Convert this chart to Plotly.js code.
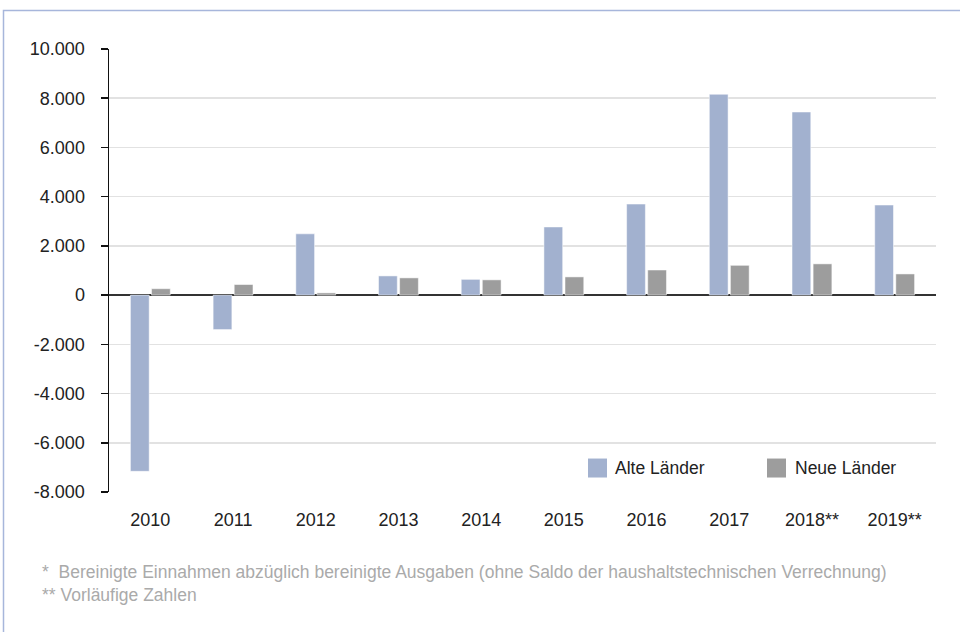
<!DOCTYPE html>
<html>
<head>
<meta charset="utf-8">
<script src="https://cdn.plot.ly/plotly-3.0.1.min.js"></script>
<style>
html,body{margin:0;padding:0;background:#fff;}
#chart{width:960px;height:632px;}
</style>
</head>
<body>
<div id="chart"></div>
<script>
var categories = ["2010","2011","2012","2013","2014","2015","2016","2017","2018**","2019**"];
var alteLaender = [-7160, -1400, 2490, 780, 640, 2770, 3700, 8160, 7440, 3660];
var neueLaender = [260, 430, 90, 700, 620, 740, 1020, 1210, 1270, 860];
var seriesNames = ["Alte Länder", "Neue Länder"];
var yTicks = [-8000,-6000,-4000,-2000,0,2000,4000,6000,8000,10000];
var yTickText = ["-8.000","-6.000","-4.000","-2.000","0","2.000","4.000","6.000","8.000","10.000"];
var footnotes = ["*  Bereinigte Einnahmen abzüglich bereinigte Ausgaben (ohne Saldo der haushaltstechnischen Verrechnung)", "** Vorläufige Zahlen"];

var colBlue = "#a2b1cf", colGray = "#9d9d9d";
var W = 960, H = 632;
var L = 109, R = 936, T = 49, B = 492.5;
function px(x){ return (x - L) / (R - L); }
function py(y){ return (B - y) / (B - T); }

var traces = [
  {type:"bar", x:categories, y:alteLaender, name:seriesNames[0],
   marker:{color:colBlue, line:{color:"rgba(255,255,255,0.5)", width:1}}, hoverinfo:"x+y+name"},
  {type:"bar", x:categories, y:neueLaender, name:seriesNames[1],
   marker:{color:colGray, line:{color:"rgba(255,255,255,0.5)", width:1}}, hoverinfo:"x+y+name"}
];

var font = "Liberation Sans, Arial, Helvetica, sans-serif";

var layout = {
  width:W, height:H,
  margin:{l:L, r:W-R, t:T, b:H-B, pad:0},
  paper_bgcolor:"#fff", plot_bgcolor:"#fff",
  separators:",.",
  showlegend:false,
  barmode:"group", bargap:0.49, bargroupgap:0.11,
  font:{family:font, size:18, color:"#222"},
  xaxis:{type:"category", showgrid:false, zeroline:false, showline:false,
    ticks:"outside", ticklen:11, tickcolor:"rgba(0,0,0,0)",
    tickfont:{family:font, size:18, color:"#222"}, fixedrange:true},
  yaxis:{range:[-8000,10000], tickvals:yTicks, ticktext:yTickText,
    showgrid:true, gridcolor:"#e2e2e2", gridwidth:1.5,
    zeroline:true, zerolinecolor:"#333", zerolinewidth:2,
    showline:true, linecolor:"#111", linewidth:1.5,
    ticks:"outside", ticklen:7, tickwidth:1.5, tickcolor:"#111",
    ticklabelstandoff:12,
    tickfont:{family:font, size:18, color:"#222"}, fixedrange:true},
  shapes:[
    {type:"path", xref:"paper", yref:"paper", layer:"below",
     path:"M"+px(3.5)+","+py(640)+" L"+px(3.5)+","+py(10.5)+" L"+px(970)+","+py(10.5),
     line:{color:"#a7b6db", width:1.5}},
    {type:"rect", xref:"paper", yref:"paper", x0:px(588), x1:px(607), y0:py(478), y1:py(459),
     fillcolor:colBlue, line:{width:0}},
    {type:"rect", xref:"paper", yref:"paper", x0:px(767), x1:px(786), y0:py(478), y1:py(459),
     fillcolor:colGray, line:{width:0}}
  ],
  annotations:[
    {xref:"paper", yref:"paper", x:px(613), y:py(468.5), xanchor:"left", yanchor:"middle",
     text:seriesNames[0], showarrow:false, font:{family:font, size:17.5, color:"#222"}},
    {xref:"paper", yref:"paper", x:px(793), y:py(468.5), xanchor:"left", yanchor:"middle",
     text:seriesNames[1], showarrow:false, font:{family:font, size:17.5, color:"#222"}},
    {xref:"paper", yref:"paper", x:px(40), y:py(573), xanchor:"left", yanchor:"middle",
     text:footnotes[0], showarrow:false, font:{family:font, size:17.5, color:"#aaaaaa"}},
    {xref:"paper", yref:"paper", x:px(40), y:py(595.5), xanchor:"left", yanchor:"middle",
     text:footnotes[1], showarrow:false, font:{family:font, size:17.5, color:"#aaaaaa"}}
  ]
};

Plotly.newPlot("chart", traces, layout, {displayModeBar:false, staticPlot:true});
</script>
</body>
</html>
